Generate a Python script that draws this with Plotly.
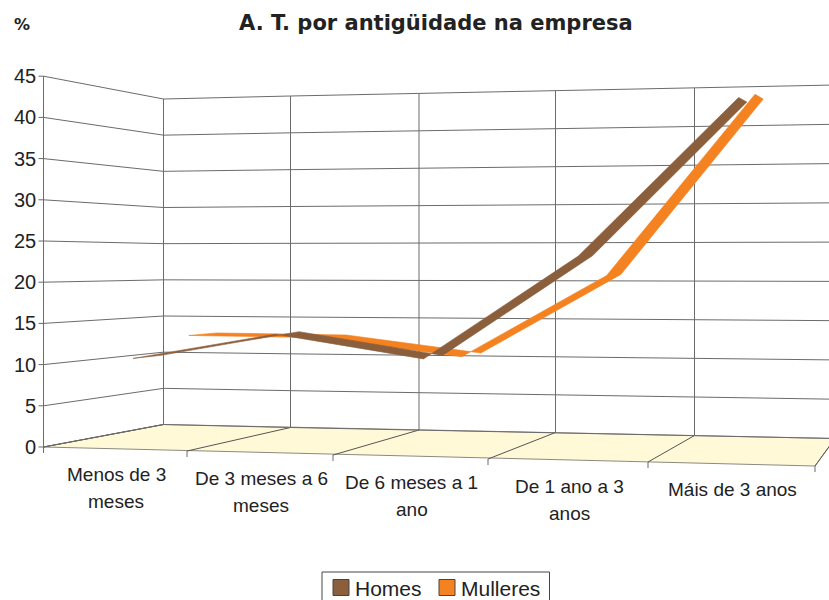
import numpy as np
import plotly.graph_objects as go

# ---- data ----
categories = ["Menos de 3<br>meses", "De 3 meses a 6<br>meses", "De 6 meses a 1<br>ano",
              "De 1 ano a 3<br>anos", "Máis de 3 anos"]
homes = [10.7, 13.9, 11.2, 23.4, 41.6]
mulleres = [12.9, 12.8, 10.6, 20.9, 43.1]
y_ticks = [0, 5, 10, 15, 20, 25, 30, 35, 40, 45]
VMAX = 45

# ---- oblique view of the Excel 3-D box (canvas pixels per category boundary) ----
front_x = [43.5, 187, 333, 488, 648, 815]
front_floor = [447, 451, 455, 459, 462, 466]
back_x = [163.5, 290.5, 419, 555.5, 694.5, 835]
back_floor = [424.5, 427.5, 430, 432.5, 435.5, 438.5]
back_top = [99, 96, 93.5, 91, 88, 85]
front_scale = [8.24, 8.38, 8.52, 8.66, 8.80, 8.94]
edges = np.arange(6)


def project(c, d, v):
    """category position c, depth d (0 front, 1 back), value v -> canvas x, y"""
    fx, bx = np.interp(c, edges, front_x), np.interp(c, edges, back_x)
    ff, bf = np.interp(c, edges, front_floor), np.interp(c, edges, back_floor)
    bt = np.interp(c, edges, back_top)
    fs, bs = np.interp(c, edges, front_scale), (bf - bt) / VMAX
    return fx + (bx - fx) * d, (ff - fs * v) + ((bf - bs * v) - (ff - fs * v)) * d


def seg(points):
    xs, ys = [], []
    for p in points:
        x, y = project(*p)
        xs.append(float(x)); ys.append(float(y))
    return xs, ys


def multi(lines):
    xs, ys = [], []
    for line in lines:
        a, b = seg(line)
        xs += a + [None]; ys += b + [None]
    return xs, ys


fig = go.Figure()
GRID = "#6b6b6b"

# floor
fx, fy = seg([(0, 0, 0), (5, 0, 0), (5, 1, 0), (0, 1, 0), (0, 0, 0)])
fig.add_trace(go.Scatter(x=fx, y=fy, mode="lines", fill="toself", fillcolor="#FFF9D8",
                         line=dict(color="#8a8a80", width=1), showlegend=False, hoverinfo="skip"))
# floor divisions
x_, y_ = multi([[(c, 0, 0), (c, 1, 0)] for c in range(0, 6)])
fig.add_trace(go.Scatter(x=x_, y=y_, mode="lines", line=dict(color="#555", width=1),
                         showlegend=False, hoverinfo="skip"))
# value gridlines: side wall then back wall
lines = []
for v in y_ticks:
    lines.append([(0, 0, v), (0, 1, v)] + [(c, 1, v) for c in range(1, 6)])
x_, y_ = multi(lines)
fig.add_trace(go.Scatter(x=x_, y=y_, mode="lines", line=dict(color=GRID, width=1),
                         showlegend=False, hoverinfo="skip"))
# back wall verticals and value axis
x_, y_ = multi([[(c, 1, 0), (c, 1, VMAX)] for c in range(0, 5)] + [[(0, 0, 0), (0, 0, VMAX)]])
fig.add_trace(go.Scatter(x=x_, y=y_, mode="lines", line=dict(color=GRID, width=1),
                         showlegend=False, hoverinfo="skip"))
# tick marks
txs, tys = [], []
for v in y_ticks:
    px, py = project(0, 0, v)
    txs += [float(px) - 5, float(px), None]; tys += [float(py), float(py), None]
for c in range(6):
    px, py = project(c, 0, 0)
    txs += [float(px), float(px), None]; tys += [float(py), float(py) + 6, None]
fig.add_trace(go.Scatter(x=txs, y=tys, mode="lines", line=dict(color=GRID, width=1),
                         showlegend=False, hoverinfo="skip"))

# series ribbons: each series is a flat strip in depth, back series first
HALF = 0.125
for vals, depth, col, name in ((mulleres, 0.765, "#F58220", "Mulleres"), (homes, 0.265, "#8B5E3C", "Homes")):
    near = [(i + 0.515, depth - HALF, v) for i, v in enumerate(vals)]
    far = [(i + 0.515, depth + HALF, v) for i, v in enumerate(vals)]
    x_, y_ = seg(near + far[::-1] + near[:1])
    fig.add_trace(go.Scatter(x=x_, y=y_, mode="lines", fill="toself", fillcolor=col, name=name,
                             line=dict(color=col, width=0.6), showlegend=False, hoverinfo="skip"))

ann = []
for v in y_ticks:
    px, py = project(0, 0, v)
    ann.append(dict(x=float(px) - 6, y=float(py), text=str(v), showarrow=False, xanchor="right",
                    yanchor="middle", font=dict(family="Liberation Sans", size=20, color="#222")))
for i, label in enumerate(categories):
    px, py = project(i + 0.5, 0, 0)
    for j, part in enumerate(label.split("<br>")):
        ann.append(dict(x=float(px) + 1, y=float(py) + 25.5 + 27 * j, text=part, showarrow=False,
                        xanchor="center", yanchor="middle",
                        font=dict(family="Liberation Sans", size=19, color="#222")))
ann.append(dict(x=436, y=23, text="<b>A. T. por antigüidade na empresa</b>", showarrow=False,
                xanchor="center", yanchor="middle",
                font=dict(family="DejaVu Sans", size=21, color="#222")))
ann.append(dict(x=22, y=24, text="<b>%</b>", showarrow=False, xanchor="center", yanchor="middle",
                font=dict(family="DejaVu Sans", size=16, color="#222")))

# legend box, swatches and labels
shapes = [dict(type="rect", xref="x", yref="y", x0=322, x1=549.5, y0=572, y1=606,
               line=dict(color="#444", width=1), fillcolor="white")]
for name, col, sx in (("Homes", "#8B5E3C", 333), ("Mulleres", "#F58220", 439)):
    shapes.append(dict(type="rect", xref="x", yref="y", x0=sx, x1=sx + 16, y0=579.5, y1=595.5,
                       line=dict(color="#444", width=1), fillcolor=col))
    ann.append(dict(x=sx + 20, y=588, text=name, showarrow=False, xanchor="left", yanchor="middle",
                    font=dict(family="Liberation Sans", size=21, color="#222")))

fig.update_layout(
    width=829, height=600, autosize=False,
    margin=dict(l=0, r=0, t=0, b=0, autoexpand=False),
    paper_bgcolor="white", plot_bgcolor="white",
    xaxis=dict(range=[0, 829], visible=False, fixedrange=True),
    yaxis=dict(range=[600, 0], visible=False, fixedrange=True),
    annotations=ann, shapes=shapes, showlegend=False,
)
fig.write_html("out.html", config=dict(displayModeBar=False),
               post_script="document.body.style.margin='0';document.body.style.overflow='hidden';")
